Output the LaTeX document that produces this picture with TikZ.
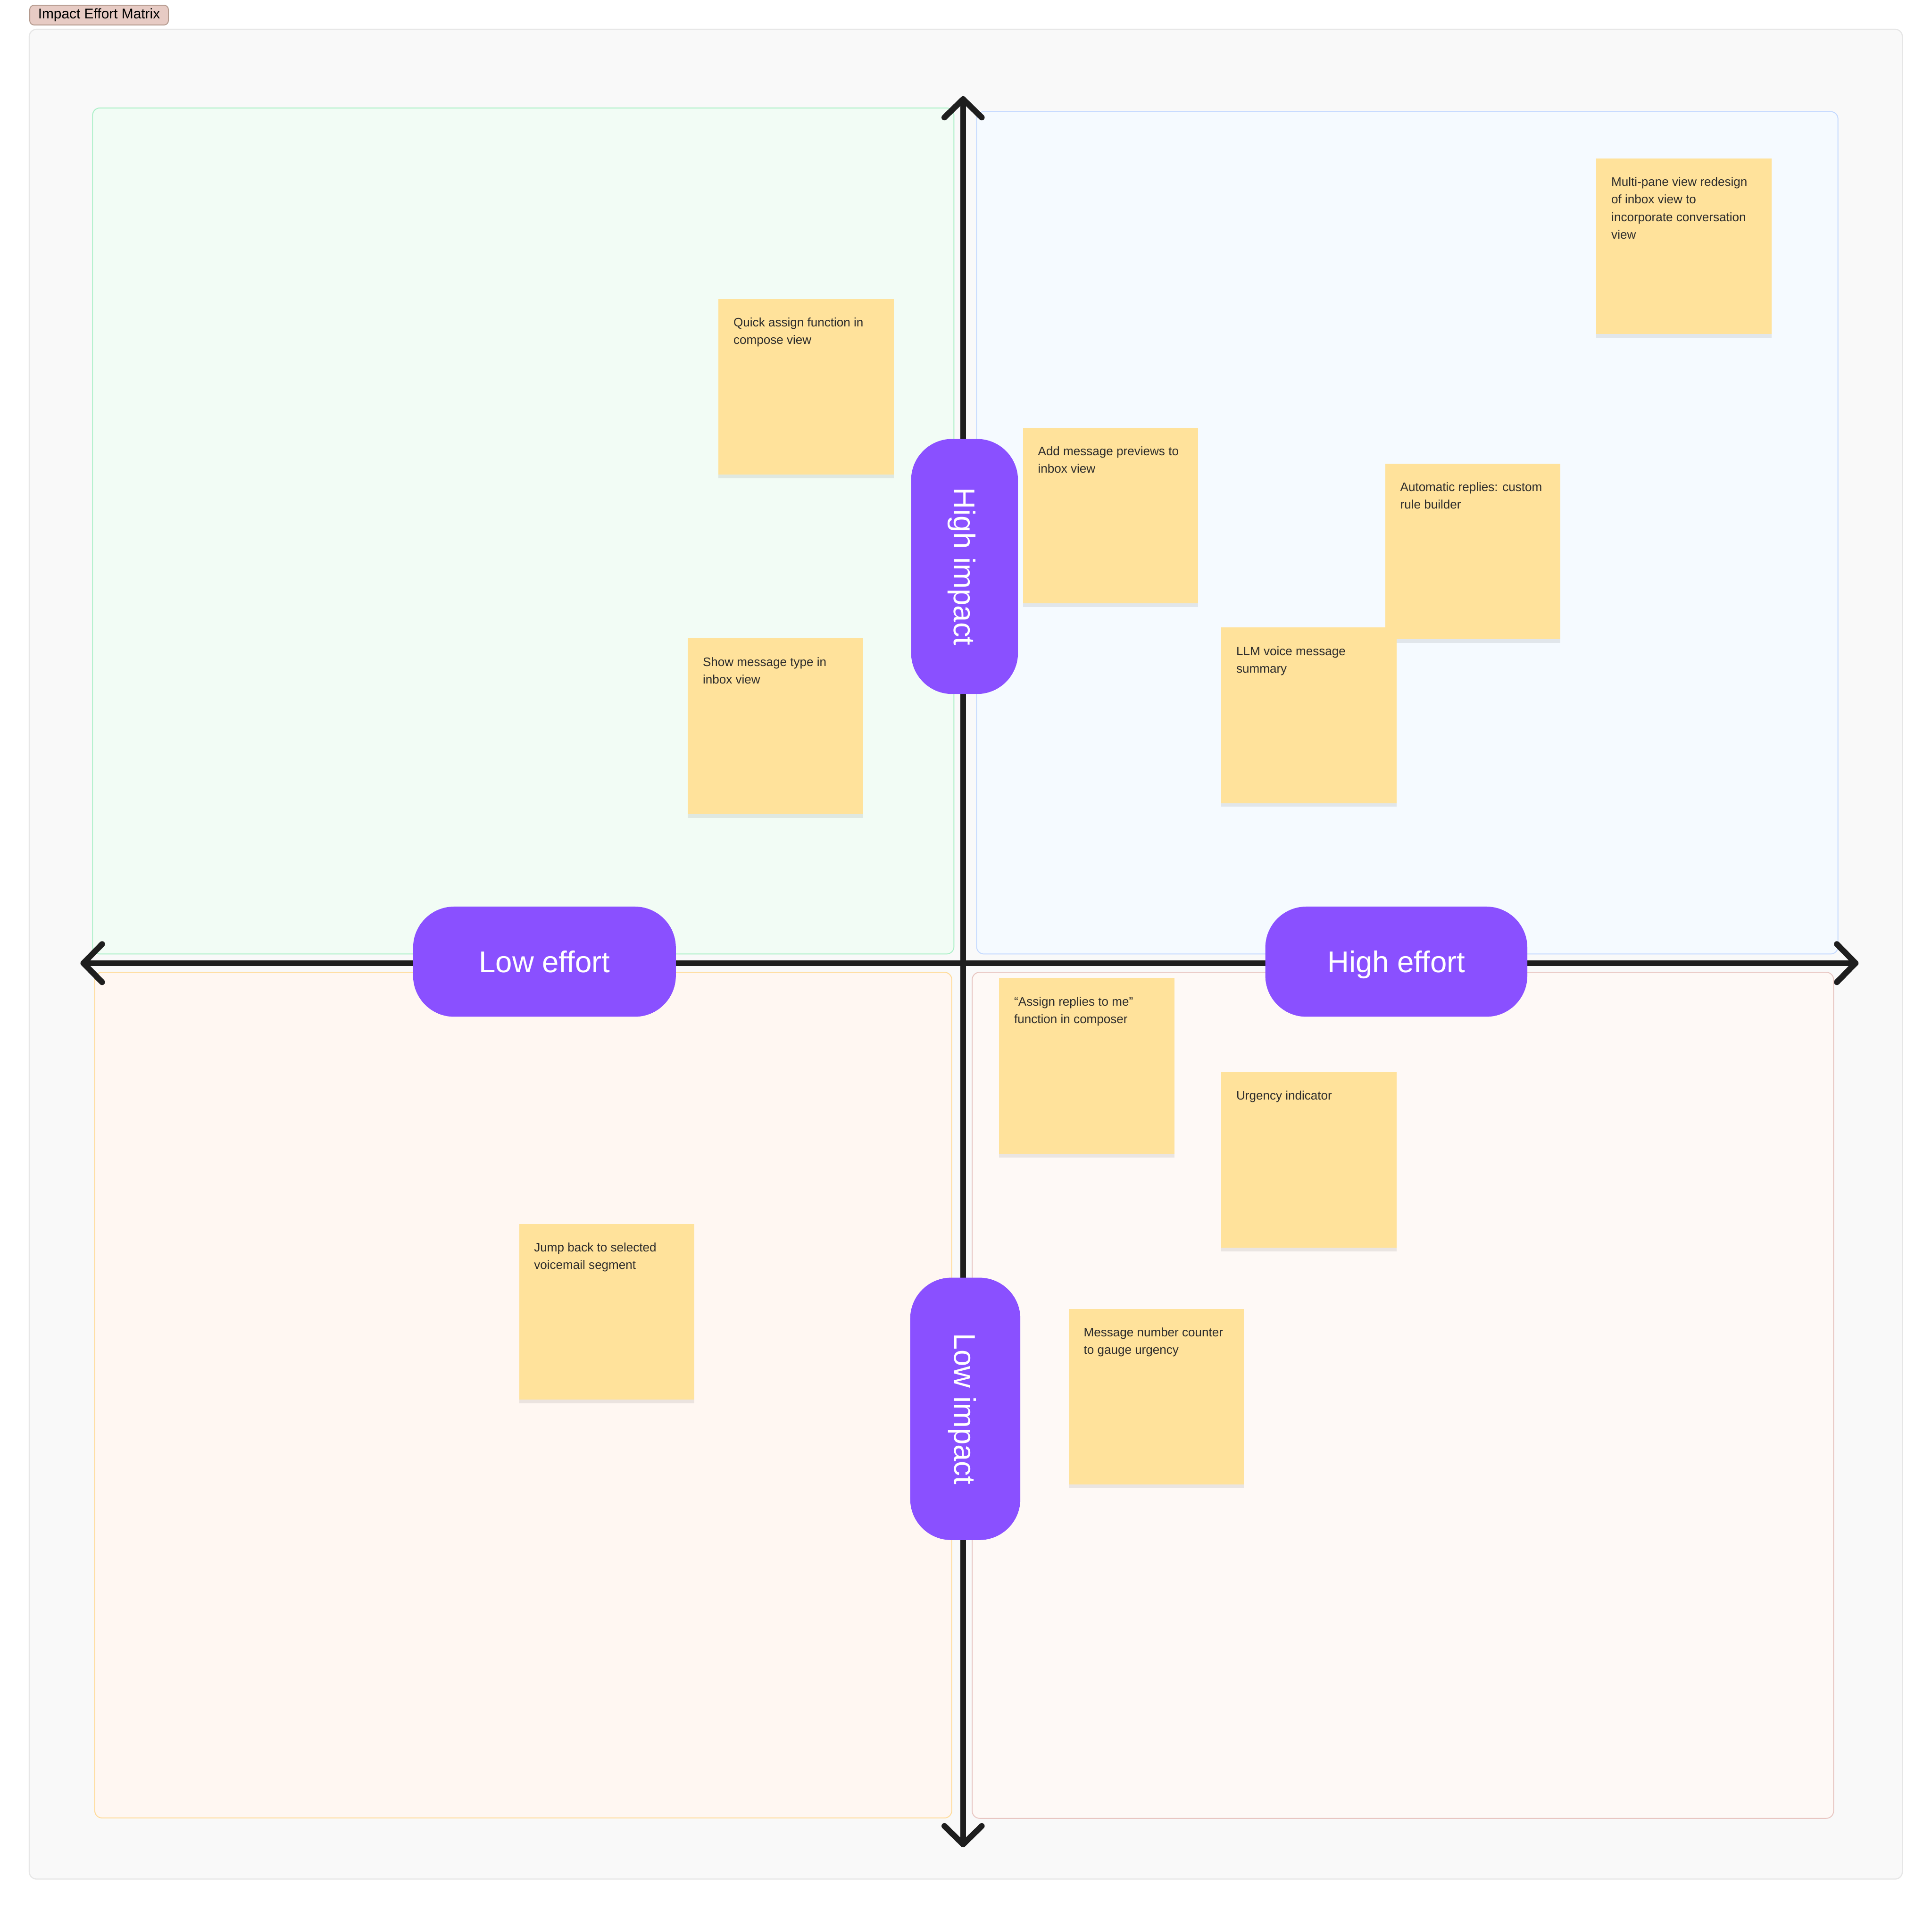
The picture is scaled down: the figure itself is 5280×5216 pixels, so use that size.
\documentclass[tikz,border=0pt]{standalone}
\usepackage{fontspec}
\setmainfont{Liberation Sans}
\usetikzlibrary{shadows}
\definecolor{framefill}{HTML}{F9F9F9}
\definecolor{frameline}{HTML}{E6E6E6}
\definecolor{gfill}{HTML}{F2FCF5}
\definecolor{gline}{HTML}{ACF0C8}
\definecolor{bfill}{HTML}{F5FAFF}
\definecolor{bline}{HTML}{C4D9FF}
\definecolor{ofill}{HTML}{FFF7F2}
\definecolor{oline}{HTML}{FFDB99}
\definecolor{rfill}{HTML}{FEF9F6}
\definecolor{rline}{HTML}{E8C6C2}
\definecolor{stickycol}{HTML}{FFE29B}
\definecolor{stickytext}{HTML}{2C2C2C}
\definecolor{pillcol}{HTML}{8A50FF}
\definecolor{axiscol}{HTML}{1E1E1E}
\definecolor{titlefill}{HTML}{E7CBC4}
\definecolor{titleline}{HTML}{B49A8E}
\newcommand\stk[1]{\parbox[t][48mm][t]{39.7mm}{\raggedright\rule{0pt}{7.6mm}#1}}
\begin{document}
\begin{tikzpicture}[x=0.1mm,y=-0.1mm,
  quad/.style={line width=0.25mm, rounded corners=2mm},
  axisline/.style={line width=1.6mm, draw=axiscol, line cap=round, line join=round},
  pill/.style={fill=pillcol, rounded corners=11.2mm, text=white, inner sep=0pt,
    font=\fontsize{23.3pt}{28pt}\selectfont, text height=5.9mm, text depth=0pt},
  sticky/.style={fill=stickycol, anchor=north west, inner xsep=4.1mm, inner ysep=0pt,
    text=stickytext, font=\fontsize{9.56pt}{13.66pt}\selectfont,
    drop shadow={shadow xshift=0mm, shadow yshift=-1mm, opacity=0.08, fill=black}},
  titlebox/.style={fill=titlefill, draw=titleline, line width=0.25mm, rounded corners=1.2mm,
    inner sep=0pt, text=black, font=\fontsize{10.96pt}{13pt}\selectfont}
]
\fill[white] (0,0) rectangle (5280,5216);
\useasboundingbox (0,0) rectangle (5280,5216);

% title
\node[titlebox, minimum width=37.9mm, minimum height=5.4mm, anchor=north west] (title) at (80,13) {Impact Effort Matrix};

% frame
\draw[fill=framefill, draw=frameline, line width=0.3mm, rounded corners=2mm] (80,80) rectangle (5199,5135);

% quadrants
\draw[quad, draw=gline, fill=gfill] (253,295) rectangle (2607,2607);
\draw[quad, draw=bline, fill=bfill] (2669,305) rectangle (5023,2607);
\draw[quad, draw=oline, fill=ofill] (259,2657) rectangle (2601,4968);
\draw[quad, draw=rline, fill=rfill] (2657,2657) rectangle (5011,4969);

% axes
\coordinate (axL) at (228,2632);
\coordinate (axR) at (5071,2632);
\coordinate (axT) at (2632,271);
\coordinate (axB) at (2632,5040);
\draw[axisline] (axL) -- (axR);
\draw[axisline] (axT) -- (axB);
\draw[axisline] (axL) ++(51,-52) -- (axL) -- ++(51,52);
\draw[axisline] (axR) ++(-51,-52) -- (axR) -- ++(-51,52);
\draw[axisline] (axT) ++(-51,50) -- (axT) -- ++(51,50);
\draw[axisline] (axB) ++(-51,-50) -- (axB) -- ++(51,-50);

% pills
\node[pill, minimum width=69.7mm, minimum height=29.2mm, rotate=-90] (himp) at (2636,1548) {High impact};
\node[pill, minimum width=71.7mm, minimum height=30.1mm, rotate=-90] (limp) at (2638,3850) {Low impact};
\node[pill, minimum width=71.8mm, minimum height=30.1mm] (leff) at (1488,2628) {Low effort};
\node[pill, minimum width=71.6mm, minimum height=30.1mm] (heff) at (3816,2628) {High effort};

% sticky notes
\node[sticky] (s1) at (1963,816) {\stk{Quick assign function in\\compose view}};
\node[sticky] (s2) at (1879,1744) {\stk{Show message type in\\inbox view}};
\node[sticky] (s3) at (4362,432) {\stk{Multi-pane view redesign\\of inbox view to\\incorporate conversation\\view}};
\node[sticky] (s4) at (2795,1168) {\stk{Add message previews to\\inbox view}};
\node[sticky] (s5) at (3785,1266) {\stk{Automatic replies: custom\\rule builder}};
\node[sticky] (s6) at (3337,1714) {\stk{LLM voice message\\summary}};
\node[sticky] (s7) at (2730,2672) {\stk{“Assign replies to me”\\function in composer}};
\node[sticky] (s8) at (3337,2929) {\stk{Urgency indicator}};
\node[sticky] (s9) at (2920,3576) {\stk{Message number counter\\to gauge urgency}};
\node[sticky] (s10) at (1418,3344) {\stk{Jump back to selected\\voicemail segment}};
\end{tikzpicture}
\end{document}
